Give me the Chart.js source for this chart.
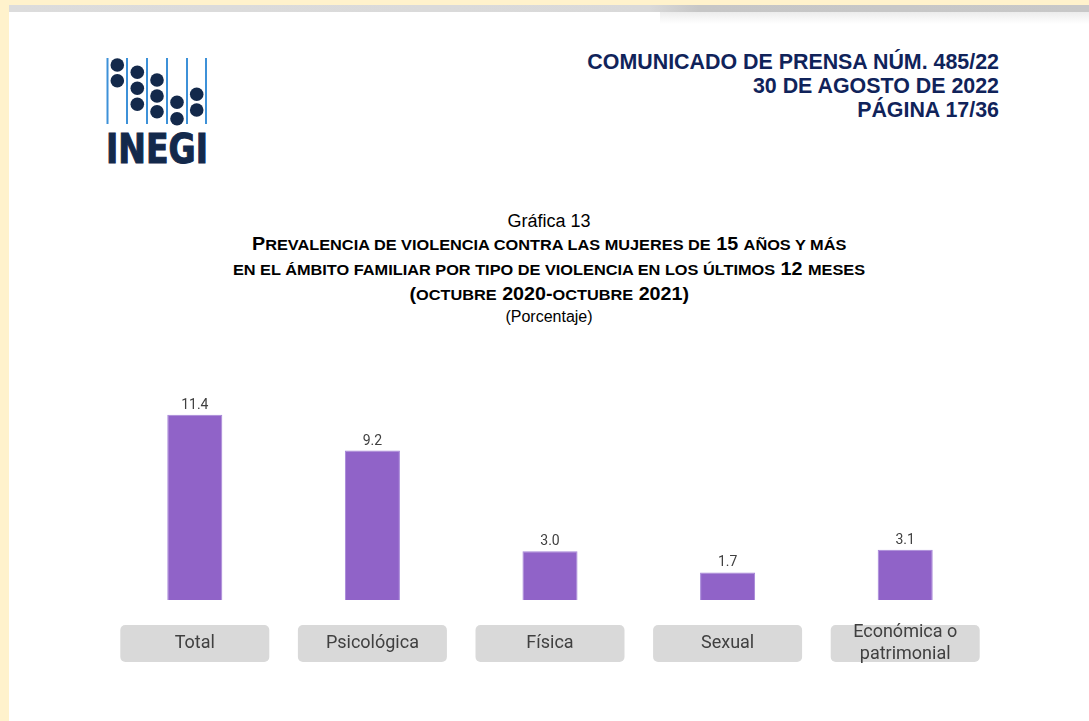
<!DOCTYPE html>
<html>
<head>
<meta charset="utf-8">
<script src="https://cdn.jsdelivr.net/npm/chart.js@4.4.0/dist/chart.umd.min.js"></script>
<style>
  html, body { margin: 0; padding: 0; }
  body { width: 1089px; height: 721px; background: #fff2cc; position: relative; overflow: hidden; font-family: "Liberation Sans", Arial, sans-serif; }
  #page { position: absolute; left: 9px; top: 5px; right: 0; bottom: 0; background: #fff; }
  #topbar { position: absolute; left: 9px; top: 5px; right: 0; height: 7px;
    background: linear-gradient(to right, #dcdcdc 0px, #d9d9d9 640px, #c6c6c6 690px, #c8c8c8 1080px); }
  #shadow { position: absolute; left: 660px; top: 12px; right: 0; height: 12px;
    background: linear-gradient(to bottom, #ececec, #ffffff); }
  #logo { position: absolute; left: 100px; top: 52px; }
  #header { position: absolute; right: 90px; top: 50px; text-align: right; color: #10235a;
    font-weight: bold; font-size: 21.4px; line-height: 24px; }
  #titles { position: absolute; left: 9px; right: 0; top: 210px; text-align: center; color: #000; }
  #titles .g { font-size: 18px; line-height: 22px; }
  #titles .t { font-size: 17.5px; font-weight: bold; line-height: 24px; }
  #titles .t span.in { display: inline-block; transform: scaleX(1.125); }
  #titles .sc { font-size: 14.5px; }
  #titles .p { font-size: 16px; line-height: 19px; }
  #wrap { position: absolute; left: 106px; top: 380px; width: 888px; height: 300px; }
</style>
</head>
<body>
<div id="page"></div>
<div id="topbar"></div>
<div id="shadow"></div>

<svg id="logo" width="120" height="115" viewBox="100 52 120 115">
  <g stroke="#3d91d8" stroke-width="2">
    <line x1="107.5" y1="58" x2="107.5" y2="124"/>
    <line x1="127" y1="58" x2="127" y2="124"/>
    <line x1="147" y1="58" x2="147" y2="124"/>
    <line x1="167" y1="58" x2="167" y2="124"/>
    <line x1="187" y1="58" x2="187" y2="124"/>
    <line x1="206" y1="58" x2="206" y2="124"/>
  </g>
  <g fill="#13294b">
    <circle cx="117.3" cy="65" r="6.8"/>
    <circle cx="117.3" cy="80.7" r="6.8"/>
    <circle cx="137.3" cy="72.3" r="6.8"/>
    <circle cx="137.3" cy="88.3" r="6.8"/>
    <circle cx="137.3" cy="104.3" r="6.8"/>
    <circle cx="157" cy="80" r="6.8"/>
    <circle cx="157" cy="96" r="6.8"/>
    <circle cx="157" cy="111.7" r="6.8"/>
    <circle cx="177" cy="102.3" r="6.8"/>
    <circle cx="177" cy="118.7" r="6.8"/>
    <circle cx="196.7" cy="94.3" r="6.8"/>
    <circle cx="196.7" cy="110" r="6.8"/>
  </g>
  <text x="106" y="163" fill="#13294b" stroke="#13294b" stroke-width="1" font-family="'Liberation Sans Narrow', 'DejaVu Sans Condensed', sans-serif"
        font-weight="bold" font-size="40" textLength="102" lengthAdjust="spacingAndGlyphs">INEGI</text>
</svg>

<div id="header">
  <div>COMUNICADO DE PRENSA NÚM. 485/22</div>
  <div>30 DE AGOSTO DE 2022</div>
  <div>PÁGINA 17/36</div>
</div>

<div id="titles">
  <div class="g">Gráfica 13</div>
  <div class="t"><span class="in">P<span class="sc">REVALENCIA DE VIOLENCIA CONTRA LAS MUJERES DE</span> 15 <span class="sc">AÑOS Y MÁS</span></span></div>
  <div class="t"><span class="in"><span class="sc">EN EL ÁMBITO FAMILIAR POR TIPO DE VIOLENCIA EN LOS ÚLTIMOS</span> 12 <span class="sc">MESES</span></span></div>
  <div class="t"><span class="in">(<span class="sc">OCTUBRE</span> 2020-<span class="sc">OCTUBRE</span> 2021)</span></div>
  <div class="p">(Porcentaje)</div>
</div>

<div id="wrap"><canvas id="chart"></canvas></div>

<script>
const categories = ['Total', 'Psicológica', 'Física', 'Sexual', ['Económica o', 'patrimonial']];
const values = [11.4, 9.2, 3.0, 1.7, 3.1];

// value labels above bars + grey boxes with the category names
const labelsPlugin = {
  id: 'labelsPlugin',
  afterDatasetsDraw(chart) {
    const ctx = chart.ctx;
    const area = chart.chartArea;
    const meta = chart.getDatasetMeta(0);
    ctx.save();
    meta.data.forEach((bar, i) => {
      ctx.fillStyle = '#404040';
      ctx.font = '14px Roboto';
      ctx.textAlign = 'center';
      ctx.textBaseline = 'alphabetic';
      ctx.fillText(values[i].toFixed(1), bar.x, bar.y - 6);

      const w = 149, h = 37;
      const top = area.bottom + 25;
      ctx.fillStyle = '#d9d9d9';
      ctx.beginPath();
      ctx.roundRect(bar.x - w / 2, top, w, h, 5);
      ctx.fill();

      ctx.fillStyle = '#404040';
      ctx.font = '18px Roboto';
      ctx.textBaseline = 'middle';
      const lines = Array.isArray(categories[i]) ? categories[i] : [categories[i]];
      const lh = 22;
      lines.forEach((line, j) => {
        const y = top + h / 2 + (j - (lines.length - 1) / 2) * lh;
        ctx.fillText(line, bar.x, y);
      });
    });
    ctx.restore();
  }
};

new Chart(document.getElementById('chart'), {
  type: 'bar',
  data: {
    labels: categories,
    datasets: [{
      data: values,
      backgroundColor: '#9063c8',
      borderColor: '#a585d8',
      borderWidth: 1,
      barPercentage: 0.31,
      categoryPercentage: 1,
    }],
  },
  options: {
    responsive: true,
    maintainAspectRatio: false,
    animation: false,
    layout: { padding: { top: 25, bottom: 80, left: 0, right: 0 } },
    plugins: {
      legend: { display: false },
      tooltip: { enabled: false },
      title: { display: false },
    },
    scales: {
      x: { display: false },
      y: { display: false, min: 0, max: 12 },
    },
  },
  plugins: [labelsPlugin],
});
</script>
</body>
</html>
